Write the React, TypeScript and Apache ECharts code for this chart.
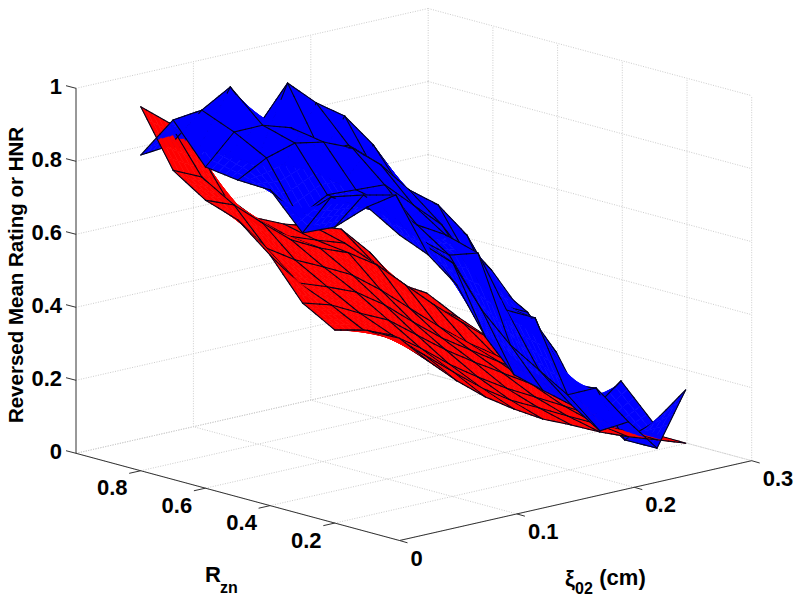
import React, { useEffect, useRef } from "react";
import * as echarts from "echarts";

const xiValues = [0.0276, 0.052, 0.0763, 0.1007, 0.1251, 0.1495, 0.1738, 0.1982, 0.2226, 0.2469, 0.2713];
const rValues = [0.9, 0.8, 0.7, 0.6, 0.5, 0.4, 0.3, 0.2, 0.1];

const redZ = [
  [0.953, 0.891, 0.8, 0.653, 0.578, 0.543, 0.52, 0.494, 0.413, 0.31, 0.265],
  [0.803, 0.767, 0.672, 0.6, 0.552, 0.523, 0.497, 0.427, 0.339, 0.274, 0.221],
  [0.745, 0.714, 0.647, 0.583, 0.543, 0.512, 0.461, 0.388, 0.316, 0.249, 0.185],
  [0.715, 0.62, 0.57, 0.533, 0.493, 0.434, 0.367, 0.3, 0.238, 0.185, 0.132],
  [0.642, 0.548, 0.52, 0.488, 0.435, 0.37, 0.309, 0.258, 0.208, 0.16, 0.109],
  [0.535, 0.512, 0.472, 0.435, 0.376, 0.318, 0.267, 0.219, 0.171, 0.126, 0.078],
  [0.485, 0.467, 0.436, 0.382, 0.32, 0.267, 0.219, 0.177, 0.135, 0.092, 0.052],
  [0.508, 0.464, 0.405, 0.341, 0.279, 0.228, 0.189, 0.149, 0.11, 0.073, 0.046],
  [0.51, 0.43, 0.358, 0.296, 0.245, 0.2, 0.166, 0.129, 0.098, 0.072, 0.045],
];

const blueZ = [
  [0.821, 0.828, 0.799, 0.768, 0.723, 0.705, 0.673, 0.615, 0.542, 0.47, 0.411],
  [0.941, 0.95, 0.996, 0.874, 0.971, 0.899, 0.845, 0.748, 0.621, 0.548, 0.448],
  [0.836, 0.914, 0.915, 0.89, 0.812, 0.807, 0.707, 0.635, 0.562, 0.476, 0.376],
  [0.824, 0.867, 0.89, 0.875, 0.841, 0.777, 0.69, 0.632, 0.532, 0.377, 0.277],
  [0.821, 0.729, 0.772, 0.768, 0.764, 0.691, 0.619, 0.499, 0.364, 0.326, 0.199],
  [0.727, 0.808, 0.763, 0.75, 0.678, 0.633, 0.505, 0.364, 0.355, 0.205, 0.051],
  [0.767, 0.837, 0.764, 0.678, 0.619, 0.607, 0.433, 0.394, 0.192, 0.106, 0.168],
  [0.846, 0.861, 0.706, 0.639, 0.493, 0.379, 0.293, 0.207, 0.208, 0.048, 0.077],
  [0.793, 0.721, 0.621, 0.46, 0.339, 0.279, 0.221, 0.132, 0.139, 0.049, 0.191],
];

const zTicks = [0, 0.2, 0.4, 0.6, 0.8, 1];
const zTickLabels = ["0", "0.2", "0.4", "0.6", "0.8", "1"];
const rTicks = [0.2, 0.4, 0.6, 0.8];
const rTickLabels = ["0.2", "0.4", "0.6", "0.8"];
const xiTicks = [0, 0.1, 0.2, 0.3];
const xiTickLabels = ["0", "0.1", "0.2", "0.3"];

const XI_MAX = 0.3;
const R_MAX = 1;
const ORIGIN = [399.5, 540.5];
const XI_AXIS = [352.2, -79.8];
const R_AXIS = [-323.5, -87.2];
const Z_AXIS = [0, -365];
const DEPTH = [313, 341, -93];
const SPLIT = 5;
const EDGE_BIAS = 14;

type P3 = [number, number, number];
function project([xi, r, z]: P3): number[] {
  const u = xi / XI_MAX;
  const v = r / R_MAX;
  return [
    ORIGIN[0] + u * XI_AXIS[0] + v * R_AXIS[0] + z * Z_AXIS[0],
    ORIGIN[1] + u * XI_AXIS[1] + v * R_AXIS[1] + z * Z_AXIS[1],
  ];
}
const depth = ([xi, r, z]: P3) => (DEPTH[0] * xi) / XI_MAX + (DEPTH[1] * r) / R_MAX + DEPTH[2] * z;

const vertex = (grid: number[][], i: number, j: number): P3 => [xiValues[i], rValues[j], grid[j][i]];
const lerp3 = (a: P3, b: P3, t: number): P3 => [
  a[0] + (b[0] - a[0]) * t,
  a[1] + (b[1] - a[1]) * t,
  a[2] + (b[2] - a[2]) * t,
];

// Facets are cut small and painted far to near, so the two surfaces hide each other
// along the line where they cross.
type Piece = { pts: number[][]; color: string; d: number; edge: boolean };
function buildPieces(): Piece[] {
  const out: Piece[] = [];
  [
    { grid: redZ, color: "#ff0000" },
    { grid: blueZ, color: "#0000ff" },
  ].forEach(({ grid, color }) => {
    const nj = rValues.length;
    const ni = xiValues.length;
    for (let j = 0; j + 1 < nj; j++) {
      for (let i = 0; i + 1 < ni; i++) {
        const a = vertex(grid, i, j);
        const b = vertex(grid, i + 1, j);
        const c = vertex(grid, i + 1, j + 1);
        const e = vertex(grid, i, j + 1);
        const at = (s: number, t: number) => lerp3(lerp3(a, b, s), lerp3(e, c, s), t);
        for (let q = 0; q < SPLIT; q++) {
          for (let p = 0; p < SPLIT; p++) {
            const cs = [
              at(p / SPLIT, q / SPLIT),
              at((p + 1) / SPLIT, q / SPLIT),
              at((p + 1) / SPLIT, (q + 1) / SPLIT),
              at(p / SPLIT, (q + 1) / SPLIT),
            ];
            out.push({
              pts: cs.map(project),
              color,
              d: cs.reduce((s, v) => s + depth(v), 0) / 4,
              edge: false,
            });
          }
        }
      }
    }
    const addEdge = (a: P3, b: P3) => {
      for (let k = 0; k < SPLIT; k++) {
        const m = lerp3(a, b, k / SPLIT);
        const n = lerp3(a, b, (k + 1) / SPLIT);
        out.push({
          pts: [project(m), project(n)],
          color: "#05051a",
          d: (depth(m) + depth(n)) / 2 - EDGE_BIAS,
          edge: true,
        });
      }
    };
    for (let j = 0; j < nj; j++) {
      for (let i = 0; i < ni; i++) {
        if (i + 1 < ni) addEdge(vertex(grid, i, j), vertex(grid, i + 1, j));
        if (j + 1 < nj) addEdge(vertex(grid, i, j), vertex(grid, i, j + 1));
      }
    }
  });
  return out.sort((p, q) => q.d - p.d);
}

function buildGridLines(): number[][][] {
  const lines: number[][][] = [];
  const seg = (a: P3, b: P3) => lines.push([project(a), project(b)]);
  zTicks.forEach((z) => {
    seg([0, R_MAX, z], [XI_MAX, R_MAX, z]);
    seg([XI_MAX, R_MAX, z], [XI_MAX, 0, z]);
  });
  xiTicks.forEach((xi) => {
    if (xi > 0) seg([xi, R_MAX, 0], [xi, R_MAX, 1]);
    seg([xi, 0, 0], [xi, R_MAX, 0]);
  });
  [0, ...rTicks, R_MAX].forEach((r) => {
    if (r < R_MAX) seg([XI_MAX, r, 0], [XI_MAX, r, 1]);
    seg([0, r, 0], [XI_MAX, r, 0]);
  });
  return lines;
}

function buildAxisLines(): number[][][] {
  const lines: number[][][] = [
    [project([0, R_MAX, 0]), project([0, R_MAX, 1])],
    [project([0, R_MAX, 0]), project([0, 0, 0])],
    [project([0, 0, 0]), project([XI_MAX, 0, 0])],
  ];
  const add = (p: number[], dx: number, dy: number) => lines.push([p, [p[0] + dx, p[1] + dy]]);
  zTicks.forEach((z) => add(project([0, R_MAX, z]), -10, -2.6));
  rTicks.forEach((r) => add(project([0, r, 0]), -11.5, 2.6));
  xiTicks.forEach((xi) => add(project([xi, 0, 0]), 8, 2.3));
  return lines;
}

type Label = { text: string; x: number; y: number; align: string; size?: number; rotate?: number };
function buildLabels(): Label[] {
  const out: Label[] = [];
  zTicks.forEach((z, k) => {
    const p = project([0, R_MAX, z]);
    out.push({ text: zTickLabels[k], x: p[0] - 14, y: p[1] - 2, align: "right" });
  });
  rTicks.forEach((r, k) => {
    const p = project([0, r, 0]);
    out.push({ text: rTickLabels[k], x: p[0] - 28.5, y: p[1] + 17, align: "center" });
  });
  xiTicks.forEach((xi, k) => {
    const p = project([xi, 0, 0]);
    out.push({ text: xiTickLabels[k], x: p[0] + 11, y: p[1] + 17.6, align: "left" });
  });
  out.push({ text: "Reversed Mean Rating or HNR", x: 15, y: 275, align: "center", rotate: Math.PI / 2, size: 20.5 });
  out.push({ text: "R", x: 213, y: 574, align: "center" });
  out.push({ text: "zn", x: 229, y: 587, align: "center", size: 16 });
  out.push({ text: "ξ", x: 570, y: 578, align: "center" });
  out.push({ text: "02", x: 584, y: 588, align: "center", size: 16 });
  out.push({ text: "(cm)", x: 622.5, y: 577, align: "center" });
  return out;
}

const pieces = buildPieces();
const gridLines = buildGridLines();
const axisLines = buildAxisLines();
const labels = buildLabels();

function lineSeries(lines: number[][][], style: any, z: number) {
  return {
    type: "custom",
    coordinateSystem: "cartesian2d",
    silent: true,
    clip: false,
    z,
    data: lines.map((_, k) => [k]),
    renderItem: (_p: any, api: any) => {
      const l = lines[api.value(0)];
      const a = api.coord(l[0]);
      const b = api.coord(l[1]);
      return {
        type: "line",
        shape: { x1: a[0], y1: a[1], x2: b[0], y2: b[1] },
        style,
      };
    },
  };
}

export default function App() {
  const ref = useRef<HTMLDivElement>(null);
  useEffect(() => {
    document.body.style.margin = "0";
    const chart = echarts.init(ref.current!, undefined, { renderer: "svg" });
    chart.setOption({
      animation: false,
      backgroundColor: "#ffffff",
      grid: { left: 0, right: 0, top: 0, bottom: 0 },
      xAxis: { type: "value", min: 0, max: 800, show: false },
      yAxis: { type: "value", min: 0, max: 603, inverse: true, show: false },
      series: [
        lineSeries(gridLines, { stroke: "#cccccc", lineWidth: 1, lineDash: [1, 1.5], fill: null }, 1),
        lineSeries(axisLines, { stroke: "#333333", lineWidth: 1, fill: null }, 2),
        {
          type: "custom",
          coordinateSystem: "cartesian2d",
          silent: true,
          clip: false,
          z: 3,
          progressive: 0,
          data: pieces.map((_, k) => [k]),
          renderItem: (_p: any, api: any) => {
            const q = pieces[api.value(0)];
            const pts = q.pts.map((p) => api.coord(p));
            if (q.edge) {
              return {
                type: "line",
                shape: { x1: pts[0][0], y1: pts[0][1], x2: pts[1][0], y2: pts[1][1] },
                style: { stroke: q.color, lineWidth: 1.1, lineCap: "round" },
              };
            }
            return {
              type: "polygon",
              shape: { points: pts },
              style: { fill: q.color, stroke: q.color, lineWidth: 0.6 },
            };
          },
        },
        {
          type: "custom",
          coordinateSystem: "cartesian2d",
          silent: true,
          clip: false,
          z: 4,
          data: labels.map((_, k) => [k]),
          renderItem: (_p: any, api: any) => {
            const l = labels[api.value(0)];
            const c = api.coord([l.x, l.y]);
            return {
              type: "text",
              x: c[0],
              y: c[1],
              rotation: l.rotate || 0,
              style: {
                text: l.text,
                x: 0,
                y: 0,
                align: l.align,
                verticalAlign: "middle",
                fill: "#000000",
                font: `bold ${l.size || 22}px "Liberation Sans", Arial, sans-serif`,
              },
            };
          },
        },
      ],
    });
    return () => chart.dispose();
  }, []);
  return <div ref={ref} style={{ width: 800, height: 603 }} />;
}
